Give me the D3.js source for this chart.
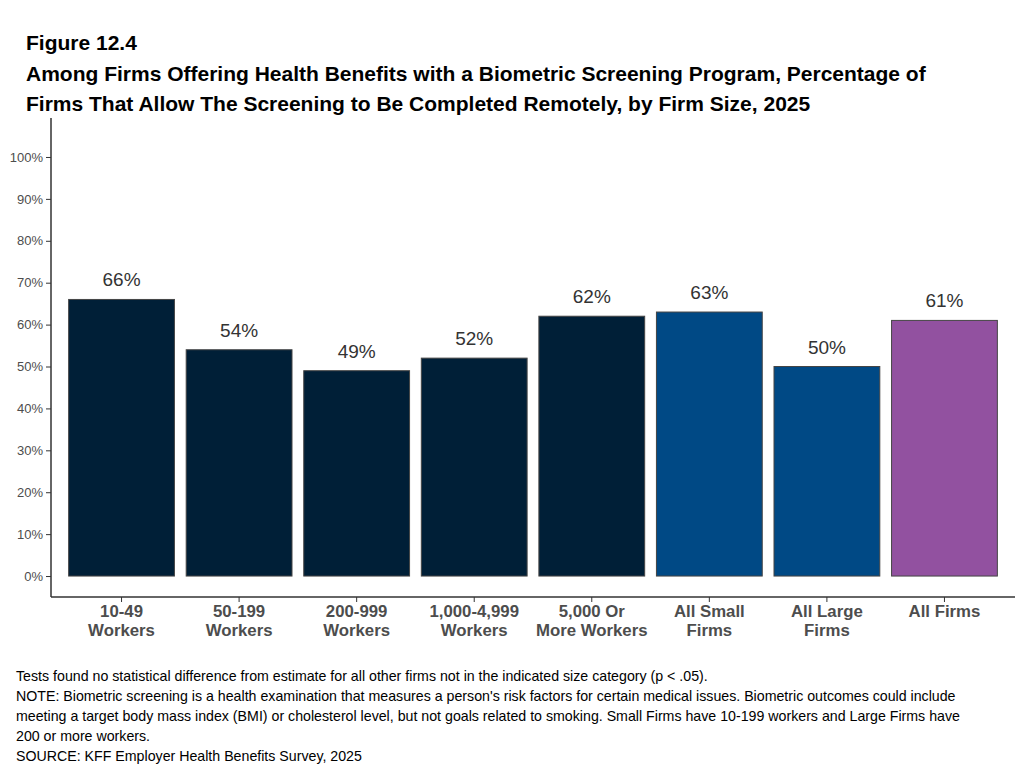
<!DOCTYPE html>
<html>
<head>
<meta charset="utf-8">
<script src="https://cdn.jsdelivr.net/npm/d3@7"></script>
<style>
  body { margin: 0; background: #fff; }
  svg { font-family: "Liberation Sans", Arial, sans-serif; }
</style>
</head>
<body>
<div id="vis"></div>
<script>
// frame
const FRAME_WIDTH = 1023;
const FRAME_HEIGHT = 770;

// data
const categories = [
  ["10-49", "Workers"], ["50-199", "Workers"], ["200-999", "Workers"],
  ["1,000-4,999", "Workers"], ["5,000 Or", "More Workers"],
  ["All Small", "Firms"], ["All Large", "Firms"], ["All Firms"]
];
const values = [66, 54, 49, 52, 62, 63, 50, 61];
const groups = ["size", "size", "size", "size", "size", "type", "type", "all"];
const yTicks = [0, 10, 20, 30, 40, 50, 60, 70, 80, 90, 100];

const COLORS = { size: "#001f37", type: "#004985", all: "#9251a0" };

const titleLines = [
  "Figure 12.4",
  "Among Firms Offering Health Benefits with a Biometric Screening Program, Percentage of",
  "Firms That Allow The Screening to Be Completed Remotely, by Firm Size, 2025"
];
const notes = [
  "Tests found no statistical difference from estimate for all other firms not in the indicated size category (p < .05).",
  "NOTE: Biometric screening is a health examination that measures a person's risk factors for certain medical issues. Biometric outcomes could include",
  "meeting a target body mass index (BMI) or cholesterol level, but not goals related to smoking. Small Firms have 10-199 workers and Large Firms have",
  "200 or more workers.",
  "SOURCE: KFF Employer Health Benefits Survey, 2025"
];

const svg = d3.select("#vis").append("svg")
  .attr("width", FRAME_WIDTH)
  .attr("height", FRAME_HEIGHT);

// plot area
const LEFT = 51, RIGHT = 1015, TOP = 118, BOTTOM = 597;

const keys = categories.map((c) => c.join(" "));

const X_SCALE = d3.scaleBand()
  .domain(keys)
  .range([LEFT, RIGHT])
  .paddingInner(0.1)
  .paddingOuter(0.15);

const Y_SCALE = d3.scaleLinear()
  .domain([-5, 109.3])
  .range([BOTTOM, TOP]);

// titles
svg.selectAll(".title")
  .data(titleLines)
  .enter()
  .append("text")
    .attr("x", 26)
    .attr("y", (d, i) => i === 0 ? 50 : 81 + (i - 1) * 30)
    .attr("font-size", "21px")
    .attr("font-weight", "bold")
    .attr("fill", "#000")
    .text((d) => d);

// bars
svg.selectAll(".bar")
  .data(values)
  .enter()
  .append("rect")
    .attr("x", (d, i) => X_SCALE(keys[i]))
    .attr("y", (d) => Y_SCALE(d))
    .attr("width", X_SCALE.bandwidth())
    .attr("height", (d) => Y_SCALE(0) - Y_SCALE(d))
    .attr("fill", (d, i) => COLORS[groups[i]])
    .attr("stroke", "#454545")
    .attr("stroke-width", 1);

// value labels
svg.selectAll(".val")
  .data(values)
  .enter()
  .append("text")
    .attr("x", (d, i) => X_SCALE(keys[i]) + X_SCALE.bandwidth() / 2)
    .attr("y", (d) => Y_SCALE(d) - 13)
    .attr("text-anchor", "middle")
    .attr("font-size", "19px")
    .attr("fill", "#333")
    .text((d) => d + "%");

// y axis
const yAxis = svg.append("g")
  .attr("transform", "translate(" + LEFT + ",0)")
  .call(d3.axisLeft(Y_SCALE).tickValues(yTicks).tickSize(5).tickPadding(3)
    .tickFormat((d) => d + "%"));
yAxis.select(".domain").remove();
yAxis.selectAll(".tick line").attr("stroke", "#333");
yAxis.selectAll(".tick text")
  .attr("font-size", "13px")
  .attr("fill", "#4d4d4d")
  .attr("font-family", "Liberation Sans, Arial, sans-serif");

// x axis
const xAxis = svg.append("g")
  .attr("transform", "translate(0," + BOTTOM + ")")
  .call(d3.axisBottom(X_SCALE).tickSize(5).tickFormat(""));
xAxis.select(".domain").remove();
xAxis.selectAll(".tick line").attr("stroke", "#333");

svg.selectAll(".xlab")
  .data(categories)
  .enter()
  .append("text")
    .attr("x", (d, i) => X_SCALE(keys[i]) + X_SCALE.bandwidth() / 2)
    .attr("y", 617)
    .attr("text-anchor", "middle")
    .attr("font-size", "16.8px")
    .attr("font-weight", "bold")
    .attr("fill", "#4d4d4d")
    .selectAll("tspan")
    .data((d) => d)
    .enter()
    .append("tspan")
      .attr("x", function () { return d3.select(this.parentNode).attr("x"); })
      .attr("dy", (d, j) => j === 0 ? 0 : 19)
      .text((d) => d);

// axis lines
svg.append("line")
  .attr("x1", LEFT).attr("x2", LEFT)
  .attr("y1", TOP).attr("y2", BOTTOM)
  .attr("stroke", "#333").attr("stroke-width", 1.5);
svg.append("line")
  .attr("x1", LEFT).attr("x2", RIGHT)
  .attr("y1", BOTTOM).attr("y2", BOTTOM)
  .attr("stroke", "#333").attr("stroke-width", 1.5);

// notes
svg.selectAll(".note")
  .data(notes)
  .enter()
  .append("text")
    .attr("x", 16)
    .attr("y", (d, i) => 681 + i * 20)
    .attr("font-size", "14.2px")
    .attr("fill", "#000")
    .text((d) => d);
</script>
</body>
</html>
